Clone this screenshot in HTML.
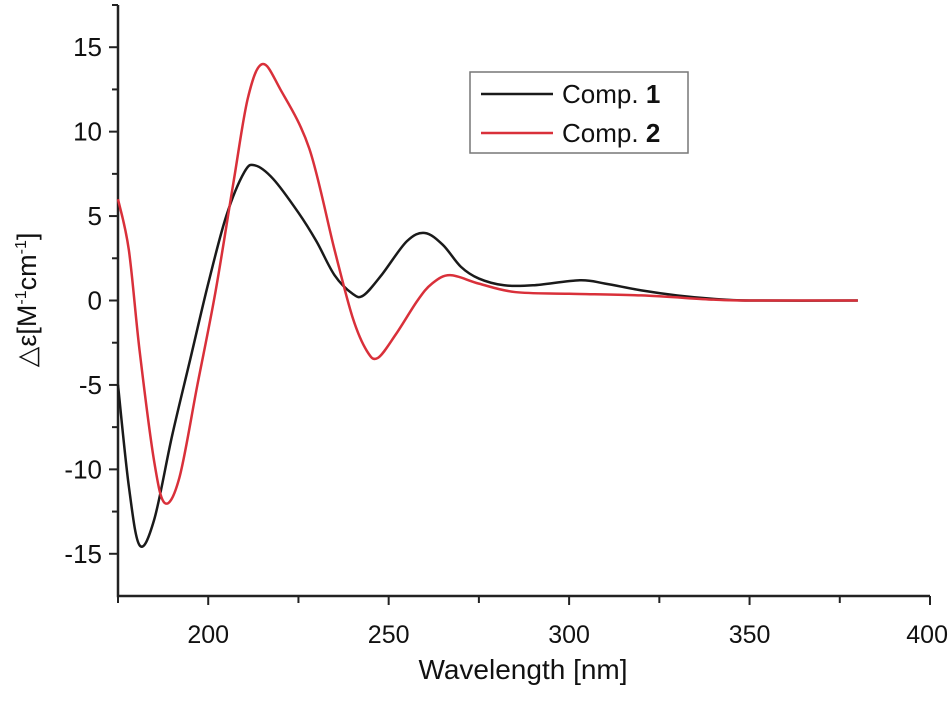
<!DOCTYPE html>
<html><head><meta charset="utf-8"><style>
body{margin:0;background:#fff}
svg text{font-family:"Liberation Sans",sans-serif;fill:#111}
</style></head><body>
<svg id="c" width="950" height="696" xmlns="http://www.w3.org/2000/svg"></svg>
<script>
const xTicks=[200,250,300,350,400];
const yTicks=[-15,-10,-5,0,5,10,15];
const wl1=[175,178,181,185,190,195,200,205,210,213,218,225,230,235,240,243,248,255,260,265,270,275,282,290,303,310,320,330,340,350,380];
const cd1=[-5,-11,-14.5,-13,-8,-3.5,1,5,7.6,8,7.2,5.2,3.5,1.5,0.4,0.3,1.5,3.5,4,3.3,2,1.3,0.9,0.9,1.2,1.0,0.6,0.3,0.1,0,0];
const wl2=[175,178,181,185,188,192,197,202,207,211,215,220,228,235,240,244,247,252,258,262,267,275,285,300,320,340,350,380];
const cd2=[6,3,-3,-9.5,-12,-10.5,-5,0.5,7,12,14,12.5,9,3,-1,-3,-3.4,-2,0,1,1.5,1,0.5,0.4,0.3,0.05,0,0];
const NS='http://www.w3.org/2000/svg';
const svg=document.getElementById('c');
const X0=118,X1=930,Y0=596,Y1=5;
const xs=v=>X0+(v-175)/(400-175)*(X1-X0);
const ys=v=>Y0-(v+17.5)/35*(Y0-Y1);
function mk(t,a,p){const e=document.createElementNS(NS,t);for(const k in a)e.setAttribute(k,a[k]);(p||svg).appendChild(e);return e;}
let ax=mk('path',{d:`M${X0},${Y1}V${Y0}H${X1}`,stroke:'#222','stroke-width':2.5,fill:'none'});


mk('path',{d:`M${X0-6},${Y1}H${X0}`,stroke:'#222','stroke-width':2});
for(let v=175;v<=400;v+=25){const x=xs(v),maj=v%50===0;mk('path',{d:`M${x},${Y0}v${maj?9:7}`,stroke:'#222','stroke-width':2});}
for(let v=-15;v<=15;v+=2.5){const y=ys(v),maj=v%5===0;mk('path',{d:`M${X0},${y}h${maj?-9:-6}`,stroke:'#222','stroke-width':2});}
xTicks.forEach((v,i)=>{const last=i===xTicks.length-1;const t=mk('text',{x:last?xs(v)+18:xs(v),y:Y0+47,'text-anchor':last?'end':'middle','font-size':25});t.textContent=v;

});
yTicks.forEach(v=>{const t=mk('text',{x:X0-16,y:ys(v)+9,'text-anchor':'end','font-size':26});t.textContent=v;

});
function path(xa,ya){const p=xa.map((x,i)=>[xs(x),ys(ya[i])]);let d=`M${p[0][0]},${p[0][1]}`;
for(let i=0;i<p.length-1;i++){const a=p[i-1]||p[i],b=p[i],c=p[i+1],e=p[i+2]||c;
d+=`C${b[0]+(c[0]-a[0])/6},${b[1]+(c[1]-a[1])/6} ${c[0]-(e[0]-b[0])/6},${c[1]-(e[1]-b[1])/6} ${c[0]},${c[1]}`;}return d;}
let s1=mk('path',{d:path(wl1,cd1),stroke:'#1a1a1a','stroke-width':2.5,fill:'none'});


let s2=mk('path',{d:path(wl2,cd2),stroke:'#d9303a','stroke-width':2.5,fill:'none'});


</script>
<svg width="950" height="696" style="position:absolute;left:0;top:0" xmlns="http://www.w3.org/2000/svg">
<g>
<rect x="470" y="72" width="218" height="81" fill="#fff" stroke="#777" stroke-width="1.5"/>
<line x1="481" y1="94" x2="553" y2="94" stroke="#1a1a1a" stroke-width="2.5"/>
<text x="562" y="103" font-size="26">Comp. <tspan font-weight="bold">1</tspan></text>
<line x1="481" y1="133" x2="553" y2="133" stroke="#d9303a" stroke-width="2.5"/>
<text x="562" y="142" font-size="26">Comp. <tspan font-weight="bold">2</tspan></text>
</g>
<text x="523" y="679" text-anchor="middle" font-size="28">Wavelength [nm]</text>
<text transform="translate(36,300) rotate(-90)" text-anchor="middle" font-size="27">△ε[M<tspan font-size="16" dy="-10">-1</tspan><tspan dy="10">cm</tspan><tspan font-size="16" dy="-10">-1</tspan><tspan dy="10">]</tspan></text>
</svg>
</body></html>
